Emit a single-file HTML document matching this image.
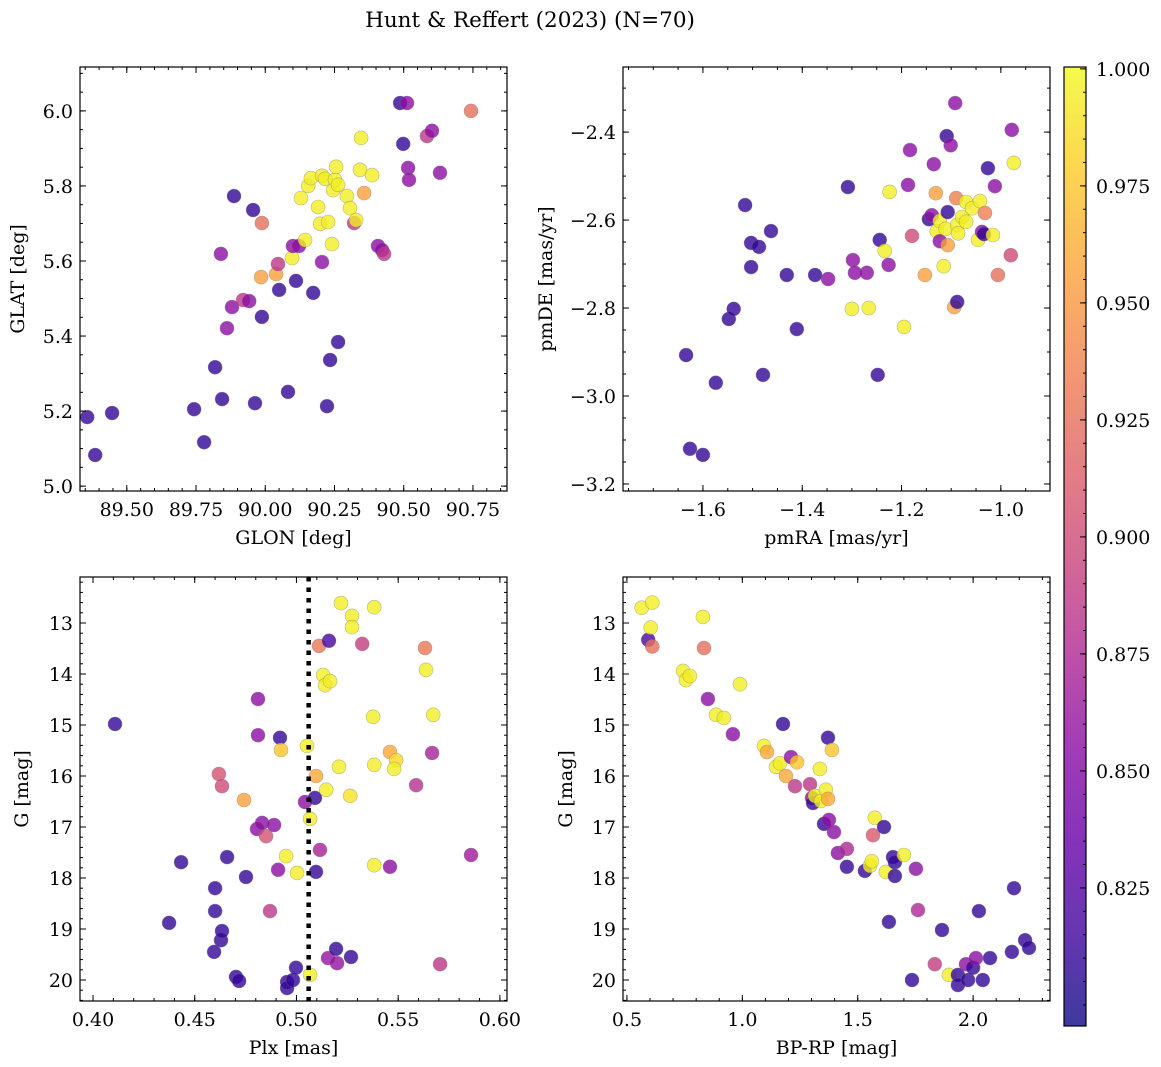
<!DOCTYPE html>
<html><head><meta charset="utf-8">
<style>
html,body{margin:0;padding:0;background:#fff;}
svg{display:block;font-family:"DejaVu Serif","Liberation Serif",serif;}
</style></head>
<body>
<svg id="fig" width="1161" height="1067" viewBox="0 0 1161 1067" xmlns="http://www.w3.org/2000/svg">
<text x="530" y="27" font-size="21.5" text-anchor="middle">Hunt &amp; Reffert (2023) (N=70)</text>
</svg>
<script>
// ---- Panel 1: GLON vs GLAT ----
const p1Glon=[89.357,89.386,89.447,89.743,89.779,89.819,89.844,89.840,89.862,89.880,89.887,89.920,89.942,89.956,89.963,89.988,89.988,89.985,90.039,90.046,90.050,90.082,90.097,90.100,90.111,90.122,90.129,90.144,90.155,90.165,90.173,90.191,90.198,90.205,90.205,90.216,90.227,90.223,90.234,90.241,90.245,90.252,90.256,90.263,90.263,90.295,90.306,90.321,90.328,90.342,90.346,90.357,90.386,90.407,90.422,90.429,90.487,90.498,90.512,90.516,90.519,90.584,90.602,90.631,90.743];
const p1Glat=[5.184,5.083,5.195,5.205,5.117,5.317,5.232,5.619,5.421,5.477,5.773,5.496,5.493,5.736,5.221,5.701,5.451,5.557,5.565,5.592,5.523,5.251,5.608,5.640,5.547,5.640,5.768,5.656,5.800,5.821,5.515,5.744,5.699,5.827,5.597,5.819,5.704,5.213,5.336,5.645,5.789,5.816,5.851,5.803,5.384,5.773,5.741,5.701,5.709,5.843,5.928,5.781,5.829,5.640,5.629,5.619,6.021,5.912,6.021,5.848,5.816,5.933,5.947,5.835,6.000];
const p1Prob=[0.81,0.81,0.81,0.81,0.81,0.81,0.81,0.855,0.855,0.855,0.81,0.885,0.855,0.81,0.81,0.925,0.81,0.955,0.955,0.885,0.81,0.81,0.995,0.855,0.81,0.855,0.995,0.995,0.995,0.995,0.81,0.995,0.995,0.995,0.855,0.995,0.995,0.81,0.81,0.995,0.995,0.995,0.995,0.995,0.81,0.995,0.995,0.885,0.995,0.995,0.995,0.955,0.995,0.855,0.855,0.885,0.81,0.81,0.855,0.855,0.855,0.885,0.855,0.855,0.925];
// ---- Panel 2: pmRA vs pmDE ----
const p2PmRA=[-1.634,-1.626,-1.600,-1.574,-1.548,-1.538,-1.515,-1.503,-1.503,-1.487,-1.479,-1.463,-1.431,-1.411,-1.374,-1.348,-1.308,-1.300,-1.298,-1.294,-1.270,-1.266,-1.248,-1.244,-1.234,-1.226,-1.224,-1.195,-1.187,-1.183,-1.179,-1.153,-1.145,-1.139,-1.135,-1.131,-1.129,-1.123,-1.123,-1.115,-1.111,-1.109,-1.107,-1.107,-1.101,-1.094,-1.092,-1.090,-1.088,-1.088,-1.086,-1.078,-1.070,-1.070,-1.058,-1.046,-1.038,-1.034,-1.042,-1.032,-1.026,-1.016,-1.012,-1.006,-0.980,-0.978,-0.974];
const p2PmDE=[-2.907,-3.120,-3.134,-2.970,-2.825,-2.802,-2.566,-2.652,-2.707,-2.661,-2.952,-2.625,-2.725,-2.848,-2.725,-2.734,-2.525,-2.802,-2.691,-2.720,-2.720,-2.800,-2.952,-2.645,-2.670,-2.702,-2.536,-2.843,-2.520,-2.441,-2.636,-2.725,-2.598,-2.589,-2.473,-2.539,-2.625,-2.648,-2.602,-2.705,-2.620,-2.409,-2.582,-2.657,-2.430,-2.798,-2.334,-2.550,-2.786,-2.611,-2.630,-2.593,-2.559,-2.604,-2.573,-2.645,-2.627,-2.632,-2.557,-2.584,-2.482,-2.634,-2.523,-2.725,-2.680,-2.395,-2.470];
const p2Prob=[0.81,0.81,0.81,0.81,0.81,0.81,0.81,0.81,0.81,0.81,0.81,0.81,0.81,0.81,0.81,0.855,0.81,0.995,0.855,0.855,0.855,0.995,0.81,0.81,0.995,0.855,0.995,0.995,0.855,0.855,0.9,0.955,0.81,0.855,0.855,0.955,0.995,0.855,0.995,0.995,0.995,0.81,0.81,0.955,0.855,0.955,0.855,0.935,0.81,0.995,0.995,0.995,0.995,0.995,0.995,0.995,0.855,0.81,0.995,0.935,0.81,0.995,0.855,0.925,0.9,0.855,0.995];
// ---- Panel 3: Plx vs G ----
const p3Plx=[0.4108,0.4374,0.4433,0.4595,0.4600,0.4600,0.4619,0.4629,0.4634,0.4634,0.4659,0.4703,0.4718,0.4742,0.4752,0.4811,0.4811,0.4806,0.4831,0.4851,0.4870,0.4890,0.4910,0.4919,0.4924,0.4949,0.4954,0.4954,0.4983,0.4998,0.5003,0.5042,0.5052,0.5067,0.5067,0.5091,0.5096,0.5096,0.5111,0.5116,0.5131,0.5141,0.5146,0.5165,0.5160,0.5155,0.5195,0.5200,0.5209,0.5219,0.5264,0.5268,0.5273,0.5273,0.5323,0.5382,0.5377,0.5382,0.5382,0.5460,0.5460,0.5490,0.5480,0.5588,0.5632,0.5637,0.5667,0.5672,0.5706,0.5858];
const p3G=[14.98,18.88,17.69,19.45,18.20,18.65,15.96,19.22,16.20,19.04,17.59,19.94,20.02,16.47,17.98,15.20,14.49,17.04,16.92,17.18,18.65,16.96,17.84,15.25,15.49,17.57,20.04,20.16,20.00,19.76,17.90,16.51,15.41,16.84,19.90,16.43,16.00,17.88,13.45,17.45,14.02,14.22,16.27,14.14,13.35,19.57,19.39,19.67,15.82,12.61,16.39,19.55,12.86,13.08,13.41,12.69,14.84,15.78,17.75,17.78,15.53,15.69,15.86,16.18,13.49,13.92,15.55,14.80,19.69,17.55];
const p3Prob=[0.81,0.81,0.81,0.81,0.81,0.81,0.905,0.81,0.9,0.81,0.81,0.81,0.81,0.955,0.81,0.855,0.855,0.855,0.855,0.905,0.885,0.855,0.855,0.81,0.975,0.995,0.81,0.81,0.81,0.81,0.995,0.855,0.995,0.995,0.995,0.81,0.96,0.81,0.93,0.87,0.995,0.995,0.995,0.995,0.82,0.86,0.81,0.86,0.995,0.995,0.99,0.81,0.995,0.995,0.89,0.995,0.995,0.995,0.995,0.855,0.96,0.985,0.995,0.88,0.93,0.995,0.87,0.995,0.885,0.865];
// ---- Panel 4: BP-RP vs G ----
const p4Col=[0.564,0.610,0.592,0.603,0.610,0.743,0.756,0.773,0.829,0.834,0.851,0.990,0.886,0.920,0.959,1.094,1.107,1.146,1.163,1.189,1.211,1.228,1.237,1.176,1.293,1.302,1.306,1.315,1.336,1.341,1.354,1.362,1.371,1.371,1.388,1.375,1.397,1.414,1.453,1.453,1.531,1.553,1.561,1.566,1.574,1.614,1.622,1.635,1.653,1.661,1.661,1.700,1.752,1.761,1.735,1.865,1.895,1.834,1.934,1.934,1.969,1.978,2.000,2.012,2.025,2.042,2.073,2.168,2.177,2.225,2.242];
const p4G=[12.70,12.60,13.33,13.09,13.46,13.94,14.12,14.04,12.88,13.49,14.49,14.20,14.80,14.86,15.18,15.41,15.53,15.82,15.75,16.00,15.63,16.20,15.73,14.98,16.16,16.43,16.53,16.39,15.86,16.49,16.94,16.27,16.45,15.25,15.49,16.86,17.10,17.51,17.43,17.78,17.86,17.76,17.67,17.16,16.82,17.00,17.88,18.86,17.59,17.69,17.96,17.55,17.82,18.63,20.00,19.02,19.90,19.69,19.90,20.10,19.69,20.00,19.76,19.57,18.65,20.00,19.57,19.45,18.20,19.22,19.37];
const p4Prob=[0.995,0.995,0.82,0.995,0.925,0.995,0.995,0.995,0.995,0.925,0.855,0.995,0.995,0.995,0.855,0.995,0.96,0.995,0.995,0.96,0.855,0.885,0.975,0.81,0.885,0.855,0.81,0.995,0.995,0.995,0.81,0.995,0.96,0.81,0.975,0.855,0.855,0.855,0.875,0.81,0.81,0.995,0.995,0.91,0.995,0.81,0.995,0.81,0.81,0.81,0.81,0.995,0.855,0.875,0.81,0.81,0.995,0.89,0.81,0.81,0.855,0.81,0.81,0.855,0.81,0.81,0.81,0.81,0.81,0.81,0.81];
// ---- Colorbar ticks ----
const cbarTicks=[0.825,0.850,0.875,0.900,0.925,0.950,0.975,1.000];
const p1XTicks=[89.50,89.75,90.00,90.25,90.50,90.75];
const p1YTicks=[5.0,5.2,5.4,5.6,5.8,6.0];
const p2XTicks=[-1.6,-1.4,-1.2,-1.0];
const p2YTicks=[-3.2,-3.0,-2.8,-2.6,-2.4];
const p3XTicks=[0.40,0.45,0.50,0.55,0.60];
const p3YTicks=[13,14,15,16,17,18,19,20];
const p4XTicks=[0.5,1.0,1.5,2.0];
const p4YTicks=[13,14,15,16,17,18,19,20];
const plxLine=[0.506];

const NS="http://www.w3.org/2000/svg";
const svg=document.getElementById('fig');
const FS=19;
function mk(tag,attrs,parent){const e=document.createElementNS(NS,tag);for(const k in attrs)e.setAttribute(k,attrs[k]);(parent||svg).appendChild(e);return e;}
const VMIN=0.7955,VMAX=1.0004;
const plasma=[[13,8,135],[65,4,157],[106,0,168],[143,13,164],[177,42,144],[204,71,120],[225,100,98],[242,132,75],[252,166,54],[252,206,37],[240,249,33]];
function cmap(v){let t=(v-VMIN)/(VMAX-VMIN);t=Math.max(0,Math.min(1,t))*10;const i=Math.min(9,Math.floor(t)),f=t-i;const a=plasma[i],b=plasma[i+1];return 'rgb('+a.map((c,k)=>Math.round(c+(b[k]-c)*f)).join(',')+')';}
function fmt(v,d){const s=Math.abs(v).toFixed(d);return (v<0?'\u2212':'')+s;}

function panel(o){
  const g=mk('g',{});
  
  
  const sx=v=>o.x0+(v-o.xmin)/(o.xmax-o.xmin)*(o.x1-o.x0);
  const sy=o.yinv?(v=>o.y0+(v-o.ymin)/(o.ymax-o.ymin)*(o.y1-o.y0)):(v=>o.y1-(v-o.ymin)/(o.ymax-o.ymin)*(o.y1-o.y0));
  const clipId='clip-'+o.name;
  const cp=mk('clipPath',{id:clipId},g);mk('rect',{x:o.x0,y:o.y0,width:o.x1-o.x0,height:o.y1-o.y0},cp);
  const pts=mk('g',{'clip-path':'url(#'+clipId+')'},g);
  for(let i=0;i<o.xs.length;i++){
    const c=mk('circle',{cx:sx(o.xs[i]).toFixed(1),cy:sy(o.ys[i]).toFixed(1),r:7,fill:cmap(o.cs[i]),'fill-opacity':0.8,stroke:'#777','stroke-opacity':0.5,'stroke-width':0.6},pts);
    
    
  }
  if(o.vline){for(const v of o.vline){const l=mk('line',{x1:sx(v),x2:sx(v),y1:o.y0,y2:o.y1,stroke:'#000','stroke-width':4.5,'stroke-dasharray':'4.5 6'},pts);
    
    }}
  const tk=mk('g',{stroke:'#000','stroke-width':1},g);
  const minor=(a,b,st)=>{const r=[];for(let v=Math.ceil(a/st-1e-6)*st;v<=b+1e-9;v+=st)r.push(v);return r;};
  for(const v of minor(o.xmin,o.xmax,o.xminor)){const x=sx(v);mk('line',{x1:x,x2:x,y1:o.y1,y2:o.y1-3},tk);mk('line',{x1:x,x2:x,y1:o.y0,y2:o.y0+3},tk);}
  for(const v of minor(o.ymin,o.ymax,o.yminor)){const y=sy(v);mk('line',{x1:o.x0,x2:o.x0+3,y1:y,y2:y},tk);mk('line',{x1:o.x1,x2:o.x1-3,y1:y,y2:y},tk);}
  for(const v of o.xt){const x=sx(v);mk('line',{x1:x,x2:x,y1:o.y1,y2:o.y1-6},tk);mk('line',{x1:x,x2:x,y1:o.y0,y2:o.y0+6},tk);
    const t=mk('text',{x:x,y:o.y1+25,'font-size':FS,'text-anchor':'middle'},g);t.textContent=fmt(v,o.xd);
    
    }
  for(const v of o.yt){const y=sy(v);mk('line',{x1:o.x0,x2:o.x0+6,y1:y,y2:y},tk);mk('line',{x1:o.x1,x2:o.x1-6,y1:y,y2:y},tk);
    const t=mk('text',{x:o.x0-7,y:y+7,'font-size':FS,'text-anchor':'end'},g);t.textContent=fmt(v,o.yd);
    
    }
  const fr=mk('rect',{x:o.x0,y:o.y0,width:o.x1-o.x0,height:o.y1-o.y0,fill:'none',stroke:'#000','stroke-width':1.2},g);
  
  
  const xl=mk('text',{x:(o.x0+o.x1)/2,y:o.y1+53,'font-size':FS,'text-anchor':'middle'},g);xl.textContent=o.xlabel;
  
  
  const yx=o.ylx,yy=(o.y0+o.y1)/2;
  const yl=mk('text',{x:yx,y:yy,'font-size':FS,'text-anchor':'middle',transform:'rotate(-90 '+yx+' '+yy+')'},g);yl.textContent=o.ylabel;
  
  
}
panel({name:'glon-glat-panel',x0:80,x1:507,y0:67,y1:491,xmin:89.331,xmax:90.873,ymin:4.987,ymax:6.117,xs:p1Glon,ys:p1Glat,cs:p1Prob,xt:p1XTicks,yt:p1YTicks,xd:2,yd:1,xminor:0.05,yminor:0.05,xlabel:'GLON [deg]',ylabel:'GLAT [deg]',ylx:24});
panel({name:'proper-motion-panel',x0:623,x1:1050,y0:67,y1:491,xmin:-1.761,xmax:-0.901,ymin:-3.216,ymax:-2.252,xs:p2PmRA,ys:p2PmDE,cs:p2Prob,xt:p2XTicks,yt:p2YTicks,xd:1,yd:1,xminor:0.05,yminor:0.05,xlabel:'pmRA [mas/yr]',ylabel:'pmDE [mas/yr]',ylx:552});
panel({name:'parallax-panel',x0:80,x1:507,y0:577,y1:1001,xmin:0.3936,xmax:0.6035,ymin:12.098,ymax:20.412,yinv:true,xs:p3Plx,ys:p3G,cs:p3Prob,xt:p3XTicks,yt:p3YTicks,xd:2,yd:0,xminor:0.01,yminor:0.2,xlabel:'Plx [mas]',ylabel:'G [mag]',ylx:28,vline:plxLine});
panel({name:'cmd-panel',x0:623,x1:1050,y0:577,y1:1001,xmin:0.483,xmax:2.333,ymin:12.098,ymax:20.412,yinv:true,xs:p4Col,ys:p4G,cs:p4Prob,xt:p4XTicks,yt:p4YTicks,xd:1,yd:0,xminor:0.1,yminor:0.2,xlabel:'BP-RP [mag]',ylabel:'G [mag]',ylx:572});

const cb=mk('g',{});


const defs=mk('defs',{},cb);
const lg=mk('linearGradient',{id:'cbgrad',x1:0,y1:1,x2:0,y2:0},defs);
for(let i=0;i<=20;i++){const v=VMIN+(VMAX-VMIN)*i/20;mk('stop',{offset:(i/20),'stop-color':cmap(v),'stop-opacity':0.8},lg);}
const CB={x0:1064,x1:1086,y0:67,y1:1026};
const cy=v=>CB.y1-(v-VMIN)/(VMAX-VMIN)*(CB.y1-CB.y0);
mk('rect',{x:CB.x0,y:CB.y0,width:CB.x1-CB.x0,height:CB.y1-CB.y0,fill:'url(#cbgrad)'},cb);
for(let v=0.800;v<=1.0001;v+=0.005){const y=cy(v);mk('line',{x1:CB.x1,x2:CB.x1-3,y1:y,y2:y,stroke:'#000','stroke-width':1},cb);}
for(const v of cbarTicks){const y=cy(v);mk('line',{x1:CB.x1,x2:CB.x1-6,y1:y,y2:y,stroke:'#000','stroke-width':1},cb);
  const t=mk('text',{x:CB.x1+10,y:y+7,'font-size':FS},cb);t.textContent=v.toFixed(3);
  
  }
mk('rect',{x:CB.x0,y:CB.y0,width:CB.x1-CB.x0,height:CB.y1-CB.y0,fill:'none',stroke:'#000','stroke-width':1.2},cb);
</script>
</body></html>
